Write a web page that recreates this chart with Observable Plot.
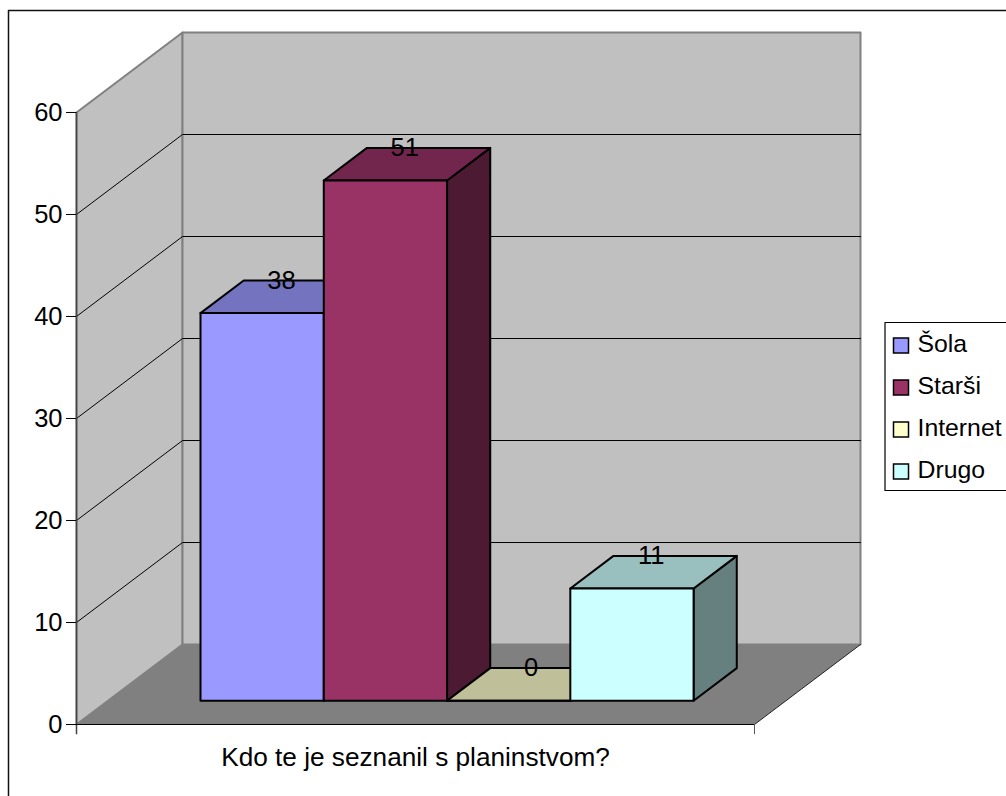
<!DOCTYPE html>
<html><head><meta charset="utf-8">
<style>html,body{margin:0;padding:0;background:#fff;overflow:hidden}svg{display:block}</style>
<script src="https://cdn.jsdelivr.net/npm/d3@7"></script>
<script src="https://cdn.jsdelivr.net/npm/@observablehq/plot@0.6"></script>
</head><body>
<script>
// data
const categories = ["Šola", "Starši", "Internet", "Drugo"];
const values = [38, 51, 0, 11];
const colors = ["#9999FF", "#993366", "#FFFFCC", "#CCFFFF"];
const topColors = ["#7373BF", "#73264D", "#BFBF99", "#99BFBF"];
const sideColors = ["#4D4D80", "#4D1A33", "#808066", "#668080"];
const yTicks = [0, 10, 20, 30, 40, 50, 60];
const xTitle = "Kdo te je seznanil s planinstvom?";

// oblique projection: depth d in [0,1] shifts the point in data units
const slots = 5.5, gap = 0.75;          // 4 bars + gap width 150%
const depthX = 0.86, depthY = 7.84, yMax = 60;
const barD0 = 0.2976, barD1 = 0.705;
const font = "Liberation Sans, Arial, sans-serif", fs = 24.8, fsAxis = 25.5, fsTitle = 26.2;

const W = 1006, H = 796, mL = 76, mR = 146, mT = 32, mB = 72;
const xDom = slots + depthX, yDom = yMax + depthY;
// pixel -> data helpers for the furniture outside the plot (frame, legend, title)
const invX = p => (p - mL) / (W - mL - mR) * xDom;
const invY = p => (H - mB - p) / (H - mT - mB) * yDom;

const P = (x, v, d) => ({x: x + d * depthX, y: v + d * depthY});
const poly = (id, fill, pts) => [...pts, pts[0]].map(p => ({...p, id, fill}));

const walls = [
  ...poly("left", "#C0C0C0", [P(0,0,0), P(0,yMax,0), P(0,yMax,1), P(0,0,1)]),
  ...poly("back", "#C0C0C0", [P(0,0,1), P(0,yMax,1), P(slots,yMax,1), P(slots,0,1)])
];
const floor = poly("floor", "#808080", [P(0,0,0), P(0,0,1), P(slots,0,1), P(slots,0,0)]);
const gridValues = yTicks.filter(v => v > 0 && v < yMax);
const grid = gridValues.flatMap(v => [P(0,v,0), P(0,v,1), P(slots,v,1)].map(p => ({...p, id: v})));

const faces = values.flatMap((v, i) => {
  const a = i + gap, b = a + 1;
  return [
    ...poly("s" + i, sideColors[i], [P(b,0,barD0), P(b,v,barD0), P(b,v,barD1), P(b,0,barD1)]),
    ...poly("t" + i, topColors[i], [P(a,v,barD0), P(a,v,barD1), P(b,v,barD1), P(b,v,barD0)]),
    ...poly("f" + i, colors[i], [P(a,0,barD0), P(a,v,barD0), P(b,v,barD0), P(b,0,barD0)])
  ];
});
const labels = values.map((v, i) => ({
  text: String(v),
  x: i + gap + 0.5 + (v === 0 ? 0.51 : 0.48) * depthX,
  y: v + barD1 * depthY
}));

// legend furniture
const legendRows = categories.map((c, i) => ({c, color: colors[i], cy: 345.5 + i * 42}));

const chart = Plot.plot({
  width: W, height: H,
  marginLeft: mL, marginRight: mR, marginTop: mT, marginBottom: mB,
  x: {domain: [0, xDom], axis: null},
  y: {domain: [0, yDom], axis: null},
  style: {fontFamily: font, fontSize: fs + "px", color: "#000", background: "#fff"},
  marks: [
    // chart-area border
    Plot.line([{x: invX(8), y: invY(796)}, {x: invX(8), y: invY(10)}, {x: invX(1006), y: invY(10)}],
      {x: "x", y: "y", stroke: "#111", strokeWidth: 1.5}),
    // walls and floor
    Plot.line(walls, {x: "x", y: "y", z: "id", fill: "fill", stroke: "#808080", strokeWidth: 2}),
    Plot.line(floor, {x: "x", y: "y", z: "id", fill: "fill", stroke: "none"}),
    Plot.line([P(slots,0,0), P(slots,0,1)], {x: "x", y: "y", stroke: "#222", strokeWidth: 1}),
    // gridlines
    Plot.line(grid, {x: "x", y: "y", z: "id", stroke: "#000", strokeWidth: 1}),
    // axes
    Plot.ruleX([0], {y1: -1, y2: yMax, stroke: "#444", strokeWidth: 1.5}),
    Plot.ruleX([slots], {y1: -1, y2: 0, stroke: "#555", strokeWidth: 1}),
    Plot.ruleY([0], {x1: 0, x2: slots, stroke: "#000", strokeWidth: 1}),
    Plot.axisY({ticks: yTicks, tickSize: 10, tickPadding: 4, stroke: "#000", label: null, fontSize: fsAxis, tickFormat: d => String(d)}),
    // bars
    Plot.line(faces, {x: "x", y: "y", z: "id", fill: "fill", stroke: "#000", strokeWidth: 2, strokeLinejoin: "round"}),
    Plot.text(labels, {x: "x", y: "y", text: "text", fontSize: fsAxis, fill: "#000", lineAnchor: "middle"}),
    // x axis title
    Plot.text([xTitle], {x: slots / 2, y: invY(757), fontSize: fsTitle, fill: "#000", lineAnchor: "middle"}),
    // legend
    Plot.line([{x: invX(1010), y: invY(322)}, {x: invX(884.5), y: invY(322)}, {x: invX(884.5), y: invY(490)}, {x: invX(1010), y: invY(490)}],
      {x: "x", y: "y", stroke: "#000", strokeWidth: 1.2}),
    Plot.rect(legendRows, {x1: () => invX(893.5), x2: () => invX(908.5), y1: d => invY(d.cy - 7.5), y2: d => invY(d.cy + 7.5),
      fill: "color", stroke: "#000", strokeWidth: 1.5}),
    Plot.text(legendRows, {x: () => invX(917), y: d => invY(d.cy - 1.5), text: "c", textAnchor: "start", lineAnchor: "middle", fontSize: fs, fill: "#000"})
  ]
});
document.body.appendChild(chart);
</script>
</body></html>
